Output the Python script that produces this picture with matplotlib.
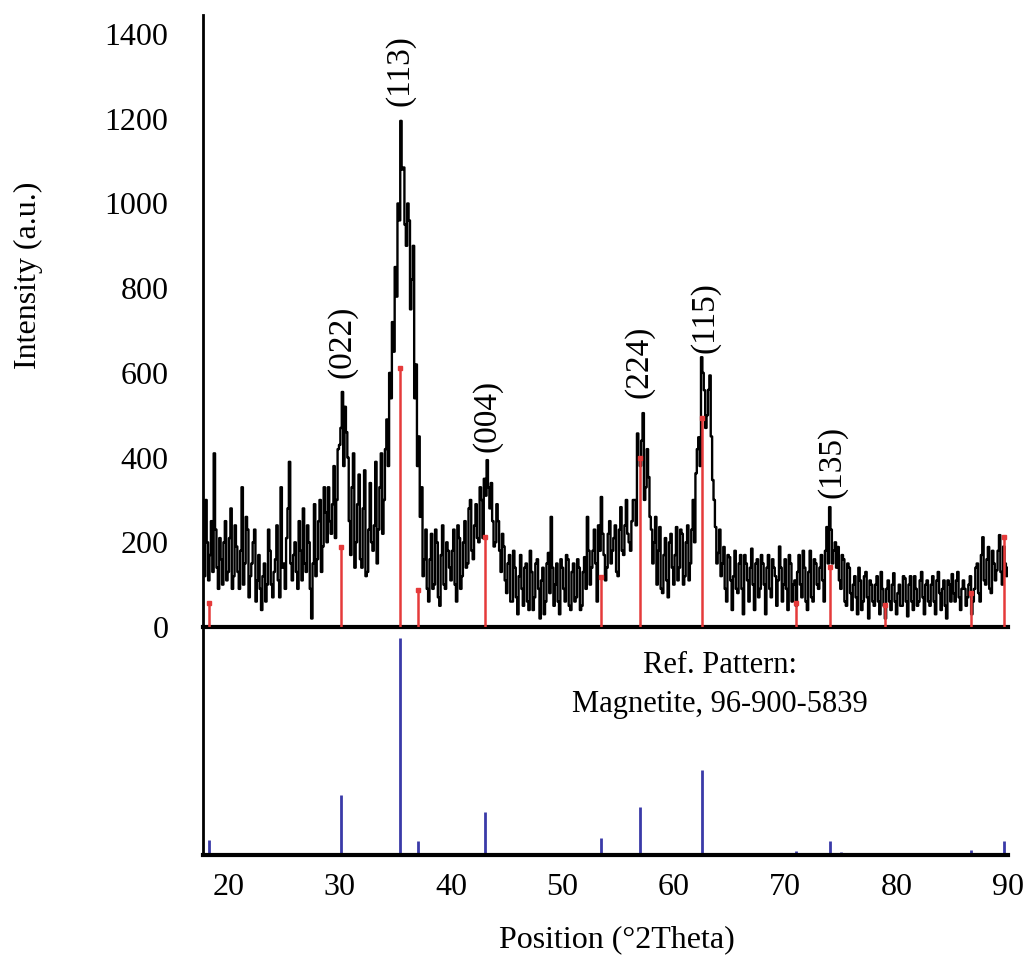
import numpy as np
import matplotlib
matplotlib.use('Agg')
import matplotlib.pyplot as plt

plt.rcParams['font.family'] = ['Liberation Serif', 'DejaVu Serif']

two_theta_start = 17.75
two_theta_step = 0.25
intensity = [
    190,
    300, 110, 250, 410,   # 18
    140, 210, 100, 250,   # 19
    130, 280, 120, 190,   # 20
    90, 330, 150, 230,    # 21
    120, 200, 60, 170,    # 22
    40, 150, 100, 180,    # 23
    70, 160, 110, 330,    # 24
    150, 210, 390, 110,   # 25
    200, 90, 180, 280,    # 26
    130, 200, 20, 290,    # 27
    160, 300, 190, 270,   # 28
    330, 220, 380, 300,   # 29
    430, 555, 520, 400,   # 30
    170, 410, 200, 360,   # 31
    140, 370, 130, 340,   # 32
    180, 390, 230, 410,   # 33
    300, 490, 600, 720,   # 34
    850, 1000, 1195, 1085,  # 35
    900, 960, 820, 540,   # 36
    380, 260, 120, 230,   # 37
    60, 220, 100, 200,    # 38
    50, 240, 90, 180,     # 39
    110, 230, 60, 210,    # 40
    120, 250, 150, 300,   # 41
    160, 290, 200, 300,   # 42
    350, 394, 280, 250,   # 43
    200, 250, 130, 190,   # 44
    80, 170, 60, 140,     # 45
    30, 170, 50, 150,     # 46
    40, 130, 70, 160,     # 47
    20, 140, 60, 175,     # 48
    260, 50, 150, 30,     # 49
    140, 60, 160, 40,     # 50
    150, 70, 140, 50,     # 51
    165, 260, 100, 180,   # 52
    150, 240, 307, 170,   # 53
    140, 250, 180, 240,   # 54
    120, 283, 170, 300,   # 55
    200, 250, 300, 457,   # 56
    380, 505, 330, 354,   # 57
    230, 200, 100, 236,   # 58
    80, 210, 70, 220,     # 59
    100, 236, 140, 220,   # 60
    120, 240, 150, 300,   # 61
    363, 448, 637, 559,   # 62
    500, 594, 347, 236,   # 63
    175, 120, 189, 60,    # 64
    165, 40, 180, 80,     # 65
    170, 30, 150, 60,     # 66
    185, 40, 160, 90,     # 67
    150, 30, 170, 70,     # 68
    140, 50, 190, 60,     # 69
    160, 40, 150, 100,    # 70
    50, 170, 70, 140,     # 71
    40, 180, 60, 150,     # 72
    90, 170, 60, 236,     # 73
    283, 150, 200, 189,   # 74
    90, 160, 50, 140,     # 75
    40, 120, 30, 110,     # 76
    60, 130, 20, 100,     # 77
    50, 120, 30, 90,      # 78
    20, 110, 40, 127,     # 79
    30, 100, 50, 115,     # 80
    25, 120, 40, 90,      # 81
    60, 130, 30, 110,     # 82
    50, 120, 30, 130,     # 83
    40, 110, 20, 100,     # 84
    125, 60, 130, 40,     # 85
    110, 50, 100, 30,     # 86
    90, 150, 60, 212,     # 87
    100, 189, 80, 150,    # 88
    134, 217, 100, 150,   # 89
    140,
]
# values in between, on the .125/.375/.625/.875 positions (17.875 .. 89.875)
intensity_between = [
    120,
    200, 170, 130, 230,   # 18
    90, 160, 200, 110,    # 19
    210, 90, 240, 130,    # 20
    180, 100, 260, 70,    # 21
    150, 230, 110, 90,    # 22
    120, 60, 230, 100,    # 23
    130, 240, 70, 140,    # 24
    90, 280, 150, 170,    # 25
    130, 250, 110, 150,   # 26
    240, 90, 150, 120,    # 27
    250, 130, 330, 200,   # 28
    250, 290, 210, 420,   # 29
    470, 380, 460, 250,   # 30
    330, 140, 290, 160,   # 31
    280, 120, 230, 200,   # 32
    240, 150, 330, 220,   # 33
    420, 380, 540, 650,   # 34
    780, 960, 1080, 950,  # 35
    1000, 750, 900, 620,  # 36
    450, 330, 160, 90,    # 37
    160, 90, 230, 70,     # 38
    170, 100, 200, 140,   # 39
    180, 100, 240, 90,    # 40
    200, 140, 280, 180,   # 41
    240, 210, 330, 210,   # 42
    310, 330, 340, 190,   # 43
    290, 180, 220, 110,   # 44
    150, 60, 180, 70,     # 45
    120, 90, 140, 60,     # 46
    180, 40, 150, 90,     # 47
    110, 30, 150, 80,     # 48
    140, 100, 60, 160,    # 49
    90, 170, 50, 130,     # 50
    60, 160, 40, 130,     # 51
    90, 180, 140, 230,    # 52
    60, 180, 220, 110,    # 53
    220, 150, 210, 130,   # 54
    230, 180, 240, 220,   # 55
    180, 300, 240, 400,   # 56
    440, 300, 420, 260,   # 57
    150, 260, 180, 90,    # 58
    170, 110, 200, 140,   # 59
    170, 110, 230, 100,   # 60
    200, 110, 230, 200,   # 61
    420, 380, 600, 470,   # 62
    560, 450, 300, 150,   # 63
    230, 150, 90, 170,    # 64
    110, 120, 90, 150,    # 65
    90, 170, 110, 140,    # 66
    100, 150, 70, 170,    # 67
    100, 140, 90, 160,    # 68
    120, 110, 140, 100,   # 69
    90, 170, 60, 110,     # 70
    130, 100, 180, 60,    # 71
    130, 70, 160, 100,    # 72
    140, 110, 180, 150,   # 73
    230, 180, 140, 110,   # 74
    170, 60, 150, 80,     # 75
    100, 70, 140, 40,     # 76
    120, 70, 110, 60,     # 77
    100, 60, 130, 50,     # 78
    90, 60, 100, 60,      # 79
    80, 50, 120, 60,      # 80
    100, 60, 120, 50,     # 81
    110, 70, 100, 60,     # 82
    100, 60, 110, 80,     # 83
    90, 50, 110, 60,      # 84
    80, 110, 70, 90,      # 85
    90, 70, 120, 60,      # 86
    140, 80, 170, 110,    # 87
    160, 90, 180, 110,    # 88
    180, 130, 190, 120,   # 89
]

# peak list (red) and reference pattern (blue)
peak_pos = [18.27, 30.10, 35.45, 37.07, 43.08, 53.45, 56.98, 62.57, 71.00, 74.00, 79.00, 86.70, 89.60]
peak_height = [57, 189, 611, 87, 212, 118, 399, 493, 57, 141, 52, 80, 212]

ref_pos = [18.27, 30.10, 35.45, 37.07, 43.08, 53.45, 56.98, 62.57, 71.00, 74.00, 75.00, 79.00, 86.70, 89.60]
ref_rel = [7, 27.5, 100, 6.5, 20, 8, 22, 39, 2, 6.5, 1.5, 1, 2.5, 6.5]

hkl_labels = ['(022)', '(113)', '(004)', '(224)', '(115)', '(135)']
hkl_x = [30.2, 35.45, 43.2, 56.9, 62.8, 74.2]
hkl_y = [587, 1231, 413, 540, 646, 304]

x_ticks = [20, 30, 40, 50, 60, 70, 80, 90]
y_ticks = [0, 200, 400, 600, 800, 1000, 1200, 1400]

# merge both readings into one series, in order of angle
n = len(intensity)
tt = two_theta_start + two_theta_step * np.arange(n)
tt_mid = tt[:-1] + two_theta_step / 2
two_theta = np.empty(2 * n - 1)
counts = np.empty(2 * n - 1)
two_theta[0::2], two_theta[1::2] = tt, tt_mid
counts[0::2], counts[1::2] = intensity, intensity_between

fig = plt.figure(figsize=(10.27, 9.61), dpi=100)
ax = fig.add_axes([203 / 1027, 1 - 627 / 961, 805 / 1027, 612 / 961])
ax2 = fig.add_axes([203 / 1027, 1 - 855 / 961, 805 / 1027, 228 / 961], sharex=ax)

red = '#e53a3a'
blue = '#3a3aa8'

ax.plot(two_theta, counts, color='black', lw=1.7, drawstyle='steps-mid', zorder=2)
ax.vlines(peak_pos, 0, peak_height, color=red, lw=1.8, zorder=3)
ax.plot(peak_pos, peak_height, 's', color=red, ms=3.5, zorder=3)
for lab, x, y in zip(hkl_labels, hkl_x, hkl_y):
    ax.text(x, y, lab, rotation=90, ha='center', va='bottom', fontsize=24)

ax.set_xlim(17.73, 90.0)
ax.set_ylim(0, 1445)
ax.set_yticks(y_ticks)
ax.set_yticklabels([str(v) for v in y_ticks], fontsize=23)
ax.tick_params(axis='y', length=0, pad=25)
ax.tick_params(axis='x', bottom=False, labelbottom=False)
for s in ['top', 'right']:
    ax.spines[s].set_visible(False)
ax.spines['left'].set_linewidth(2)
ax.spines['bottom'].set_linewidth(3)

ax2.vlines(ref_pos, 0, ref_rel, color=blue, lw=2)
ax2.set_ylim(0, 105)
ax2.set_yticks([])
ax2.set_xticks(x_ticks)
ax2.set_xticklabels([str(v) for v in x_ticks], fontsize=23)
ax2.tick_params(axis='x', length=0, pad=13)
for s in ['top', 'right']:
    ax2.spines[s].set_visible(False)
ax2.spines['left'].set_linewidth(2)
ax2.spines['bottom'].set_linewidth(3)
ax2.patch.set_alpha(0)
ax2.text(0.642, 0.833, 'Ref. Pattern:', ha='center', va='center', fontsize=22, transform=ax2.transAxes)
ax2.text(0.642, 0.658, 'Magnetite, 96-900-5839', ha='center', va='center', fontsize=22, transform=ax2.transAxes)

fig.text(28 / 1027, 1 - 275 / 961, 'Intensity (a.u.)', rotation=90, ha='center', va='center', fontsize=23)
fig.text(617 / 1027, 1 - 940 / 961, 'Position (°2Theta)', ha='center', va='center', fontsize=23)

fig.savefig('out.png', dpi=100)
